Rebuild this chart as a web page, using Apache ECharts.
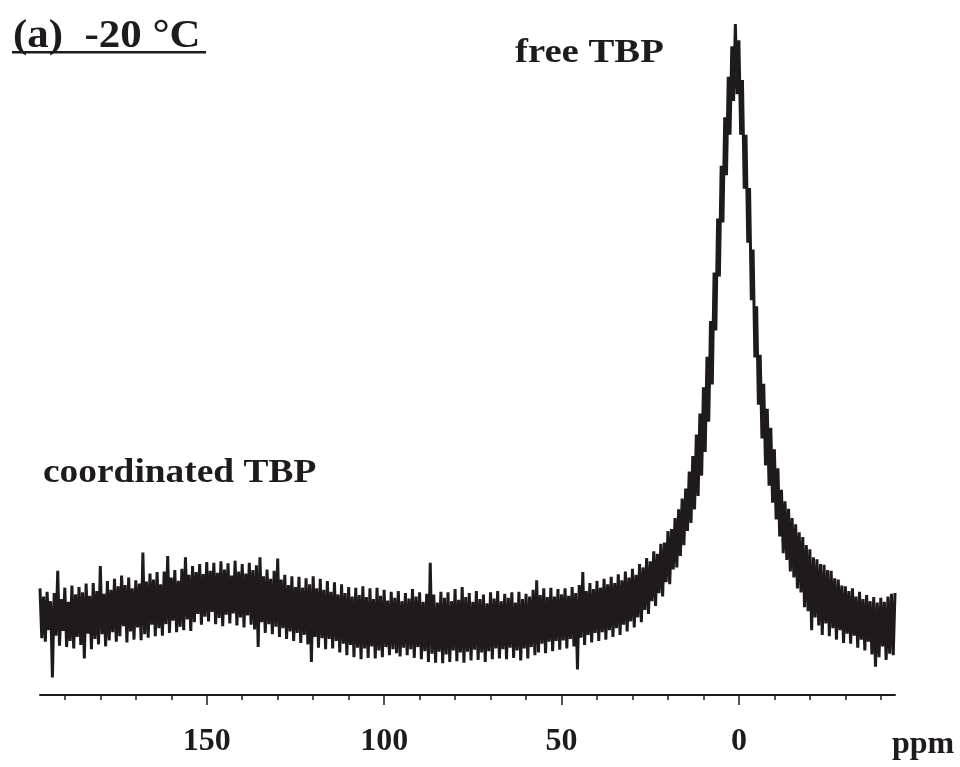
<!DOCTYPE html>
<html>
<head>
<meta charset="utf-8">
<script src="https://cdn.jsdelivr.net/npm/echarts@6/dist/echarts.min.js"></script>
<style>
  html, body { margin: 0; background: #fff; }
  #chart { width: 960px; height: 767px; }
</style>
</head>
<body>
<div id="chart"></div>
<script>
// 31P NMR spectrum, sampled every 0.5 ppm from 197 ppm down to -44 ppm
const ppmStart = 197
const ppmStep = 0.5
const intensity = [
  15.8, 8.4, 14.6, 7.9, 15.3, 9.6, 13.9, 2.6, 15.1, 8.8, 18.4, 7.3, 14.2, 9.5, 15.9, 7.1, 13.8, 8.0, 16.2, 6.9,
  14.9, 8.6, 16.0, 7.4, 15.2, 5.4, 16.5, 9.1, 14.7, 6.8, 16.6, 8.3, 15.4, 7.5, 19.1, 9.0, 15.0, 7.2, 16.9, 8.1,
  15.6, 9.3, 17.2, 7.9, 16.1, 8.7, 17.7, 10.2, 16.3, 7.8, 17.4, 9.4, 15.8, 8.2, 17.0, 10.0, 16.5, 8.1, 21.1, 9.0,
  16.8, 8.5, 18.0, 10.4, 17.1, 8.7, 18.2, 9.9, 16.4, 8.8, 18.3, 10.5, 20.6, 9.2, 17.4, 11.0, 18.5, 9.3, 16.9, 10.1,
  18.7, 9.6, 20.4, 11.2, 17.8, 9.5, 19.1, 10.8, 18.2, 12.0, 19.4, 10.4, 17.9, 11.6, 19.7, 10.9, 18.4, 12.3, 19.6, 10.5,
  18.1, 11.4, 19.8, 10.2, 18.6, 11.9, 19.5, 10.6, 17.7, 12.1, 19.9, 10.3, 18.3, 11.5, 19.4, 10.0, 18.0, 11.8, 19.6, 10.4,
  18.5, 9.7, 19.2, 7.1, 20.4, 10.8, 17.6, 9.2, 18.6, 10.5, 17.2, 9.0, 18.4, 10.1, 20.2, 8.6, 17.1, 9.9, 17.8, 8.3,
  16.3, 9.4, 17.6, 8.0, 16.0, 9.2, 17.5, 7.7, 15.9, 8.9, 17.3, 7.5, 16.4, 4.9, 17.6, 8.6, 15.8, 7.0, 17.2, 8.4,
  15.6, 6.8, 16.9, 8.3, 15.3, 6.9, 16.7, 8.0, 14.9, 6.3, 16.4, 7.6, 15.1, 5.9, 16.0, 7.4, 14.6, 5.6, 15.9, 7.0,
  14.8, 5.3, 16.1, 6.9, 14.5, 5.5, 15.8, 7.2, 14.2, 5.4, 15.9, 6.6, 14.7, 5.6, 15.6, 7.1, 14.0, 5.9, 15.3, 6.8,
  14.4, 6.2, 15.4, 5.7, 13.9, 7.0, 15.1, 5.9, 14.3, 6.8, 15.7, 5.5, 14.6, 7.1, 15.2, 5.3, 13.8, 6.5, 15.0, 4.9,
  19.6, 6.1, 14.9, 4.8, 13.7, 6.4, 15.3, 4.7, 14.4, 6.0, 15.2, 4.9, 13.9, 6.6, 15.7, 5.0, 14.1, 6.3, 16.0, 4.8,
  14.5, 6.4, 15.1, 5.1, 13.8, 6.7, 15.4, 5.2, 14.2, 6.3, 14.9, 4.9, 13.6, 6.5, 15.2, 5.3, 14.3, 6.9, 15.4, 5.4,
  13.9, 6.8, 15.0, 5.3, 14.4, 7.0, 15.2, 5.5, 13.7, 6.6, 15.3, 5.1, 14.2, 6.9, 15.0, 5.4, 14.6, 7.1, 15.6, 5.9,
  17.0, 6.3, 14.8, 7.6, 15.8, 6.2, 14.5, 7.9, 15.9, 6.5, 14.6, 8.0, 15.7, 6.7, 14.9, 8.1, 15.8, 6.9, 14.7, 8.3,
  16.0, 7.2, 15.1, 3.8, 16.3, 8.5, 18.2, 7.4, 15.4, 8.9, 16.6, 7.8, 15.7, 9.2, 16.9, 8.0, 15.9, 9.3, 17.2, 8.2,
  16.4, 9.6, 17.5, 8.6, 16.6, 9.9, 17.9, 8.9, 17.0, 10.4, 18.3, 9.4, 17.4, 10.9, 18.7, 10.0, 17.8, 11.5, 19.4, 10.8,
  18.9, 12.6, 20.3, 12.0, 19.8, 13.9, 21.3, 13.2, 20.9, 15.1, 22.4, 14.6, 22.6, 16.7, 24.3, 16.4, 24.6, 18.6, 26.2, 18.9,
  27.5, 20.6, 29.1, 22.2, 30.6, 24.3, 33.1, 25.5, 35.4, 27.5, 38.6, 29.5, 41.7, 32.5, 45.6, 36.0, 50.1, 40.5, 55.4, 46.0,
  62.6, 54.0, 70.6, 62.0, 78.4, 70.0, 85.6, 77.0, 91.6, 83.0, 96.1, 88.0, 99.4, 89.0, 97.0, 83.0, 91.1, 75.0, 83.0, 67.0,
  75.1, 58.5, 66.0, 50.0, 57.6, 43.0, 50.4, 38.0, 46.1, 34.0, 42.4, 31.0, 39.6, 28.5, 36.4, 26.0, 33.6, 23.5, 30.4, 21.0,
  28.7, 20.0, 27.6, 18.3, 26.2, 17.4, 25.3, 15.8, 24.1, 15.2, 23.4, 13.0, 22.2, 12.4, 21.6, 9.6, 20.4, 11.5, 20.1, 10.3,
  19.4, 8.9, 19.3, 10.6, 18.5, 8.7, 18.4, 9.9, 17.3, 8.2, 17.1, 9.6, 16.2, 7.7, 16.1, 9.1, 15.4, 7.6, 15.8, 8.8,
  14.6, 7.0, 15.3, 8.2, 14.2, 6.6, 14.8, 7.9, 13.9, 6.0, 14.5, 4.2, 13.7, 5.6, 14.4, 7.2, 13.8, 5.2, 14.6, 6.1, 15.0, 5.9, 15.1
]
const majorTicks = [150, 100, 50, 0]
const minorTicks = [190, 180, 170, 160, 140, 130, 120, 110, 90, 80, 70, 60, 40, 30, 20, 10, -10, -20, -30, -40]

const ink = '#1f1b1c'
const serif = '"Liberation Serif", "Times New Roman", serif'

const chart = echarts.init(document.getElementById('chart'))
const spectrum = intensity.map((v, i) => [ppmStart - i * ppmStep, v])

const option = {
  animation: false,
  grid: { left: 40, right: 65, top: 20, bottom: 72, outerBoundsMode: 'none' },
  xAxis: [
    {
      type: 'value', inverse: true, min: -44, max: 197,
      axisLine: { lineStyle: { color: ink, width: 2 } },
      axisTick: { customValues: minorTicks, length: 5, lineStyle: { color: ink, width: 1.5 } },
      axisLabel: { customValues: majorTicks, color: ink, fontFamily: serif, fontWeight: 'bold', fontSize: 32, margin: 31 },
      splitLine: { show: false }
    },
    {
      // longer ticks at the labelled values
      type: 'value', inverse: true, min: -44, max: 197, position: 'bottom',
      axisLine: { show: false },
      axisTick: { customValues: majorTicks, length: 10, lineStyle: { color: ink, width: 1.5 } },
      axisLabel: { show: false },
      splitLine: { show: false }
    }
  ],
  yAxis: { type: 'value', min: 0, max: 100, show: false },
  series: [
    {
      type: 'line',
      data: spectrum,
      showSymbol: false,
      symbol: 'none',
      lineStyle: { color: ink, width: 3, join: 'miter' },
      silent: true
    }
  ],
  graphic: [
    { type: 'text', x: 13, y: 37, scaleX: 1.1, style: { text: '(a)  -20 °C', font: 'bold 39px ' + serif, fill: ink, verticalAlign: 'middle' } },
    { type: 'rect', shape: { x: 12, y: 51, width: 194, height: 2.5 }, style: { fill: ink } },
    { type: 'text', x: 515, y: 53, scaleX: 1.14, style: { text: 'free TBP', font: 'bold 34px ' + serif, fill: ink, verticalAlign: 'middle' } },
    { type: 'text', x: 43, y: 473, scaleX: 1.1, style: { text: 'coordinated TBP', font: 'bold 34px ' + serif, fill: ink, verticalAlign: 'middle' } },
    { type: 'text', x: 892, y: 745, style: { text: 'ppm', font: 'bold 32px ' + serif, fill: ink, verticalAlign: 'middle' } }
  ]
}
chart.setOption(option)
</script>
</body>
</html>
